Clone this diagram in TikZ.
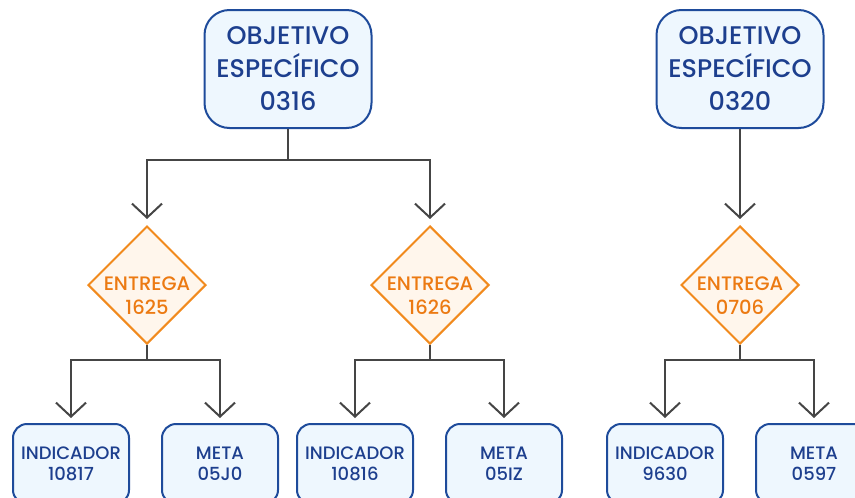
\documentclass[tikz,border=0pt]{standalone}
\usepackage{fontspec}
\setmainfont{Poppins Medium}
\usetikzlibrary{shapes.geometric,arrows.meta}
\definecolor{boxblue}{HTML}{1E4B9B}
\definecolor{boxtext}{HTML}{1D3F8E}
\definecolor{boxfill}{HTML}{EEF7FE}
\definecolor{entorange}{HTML}{F18A1D}
\definecolor{enttext}{HTML}{EC7A12}
\definecolor{entfill}{HTML}{FFF6EC}
\definecolor{linkgray}{HTML}{454545}
\newcommand{\entlabel}[1]{\raisebox{-18pt}[0pt][0pt]{\begin{tabular}{@{}c@{}}ENTREGA\\#1\end{tabular}}}
\begin{document}
\begin{tikzpicture}[x=1pt,y=-1pt,
    objbox/.style={draw=boxblue,fill=boxfill,line width=2pt,rounded corners=25pt,
        minimum width=167pt,minimum height=118pt,align=center,text=boxtext,
        font=\fontsize{25.5}{33}\selectfont},
    entdiamond/.style={draw=entorange,fill=entfill,line width=2pt,diamond,aspect=1,
        inner sep=0pt,minimum width=118pt,minimum height=118pt,text=enttext,
        font=\fontsize{19.5}{24}\selectfont},
    leafbox/.style={draw=boxblue,fill=boxfill,line width=2pt,rounded corners=14pt,
        minimum width=116pt,minimum height=80pt,align=center,text=boxtext,
        font=\fontsize{18}{21}\selectfont},
    link/.style={draw=linkgray,line width=2pt,
        -{Straight Barb[length=14pt,width=30pt]}}]
        \useasboundingbox (0,0) rectangle (855,498);

        \node[objbox] (obj1) at (288,69){OBJETIVO\\ESPECÍFICO\\0316};
        \node[objbox] (obj2) at (740,69){OBJETIVO\\ESPECÍFICO\\0320};

        \node[entdiamond] (ent1) at (147,285){\entlabel{1625}};
        \node[entdiamond] (ent2) at (430,285){\entlabel{1626}};
        \node[entdiamond] (ent3) at (740,285){\entlabel{0706}};

        \node[leafbox] (ind1) at (71,464){INDICADOR\\10817};
        \node[leafbox] (meta1) at (220,464){META\\05J0};
        \node[leafbox] (ind2) at (355,464){INDICADOR\\10816};
        \node[leafbox] (meta2) at (504,464){META\\05IZ};
        \node[leafbox] (ind3) at (665,464){INDICADOR\\9630};
        \node[leafbox] (meta3) at (814,464){META\\0597};

        \path [link,shorten >=6pt] (obj1.south) -- ++(0,31) -| (ent1.north);
        \path [link,shorten >=6pt] (obj1.south) -- ++(0,31) -| (ent2.north);
        \path [link,shorten >=6pt] (obj2.south) to (ent3.north);
        \path [link,shorten >=5pt] (ent1.south) -- ++(0,15) -| (ind1.north);
        \path [link,shorten >=5pt] (ent1.south) -- ++(0,15) -| (meta1.north);
        \path [link,shorten >=5pt] (ent2.south) -- ++(0,15) -| (ind2.north);
        \path [link,shorten >=5pt] (ent2.south) -- ++(0,15) -| (meta2.north);
        \path [link,shorten >=5pt] (ent3.south) -- ++(0,15) -| (ind3.north);
        \path [link,shorten >=5pt] (ent3.south) -- ++(0,15) -| (meta3.north);
    \end{tikzpicture}
\end{document}
